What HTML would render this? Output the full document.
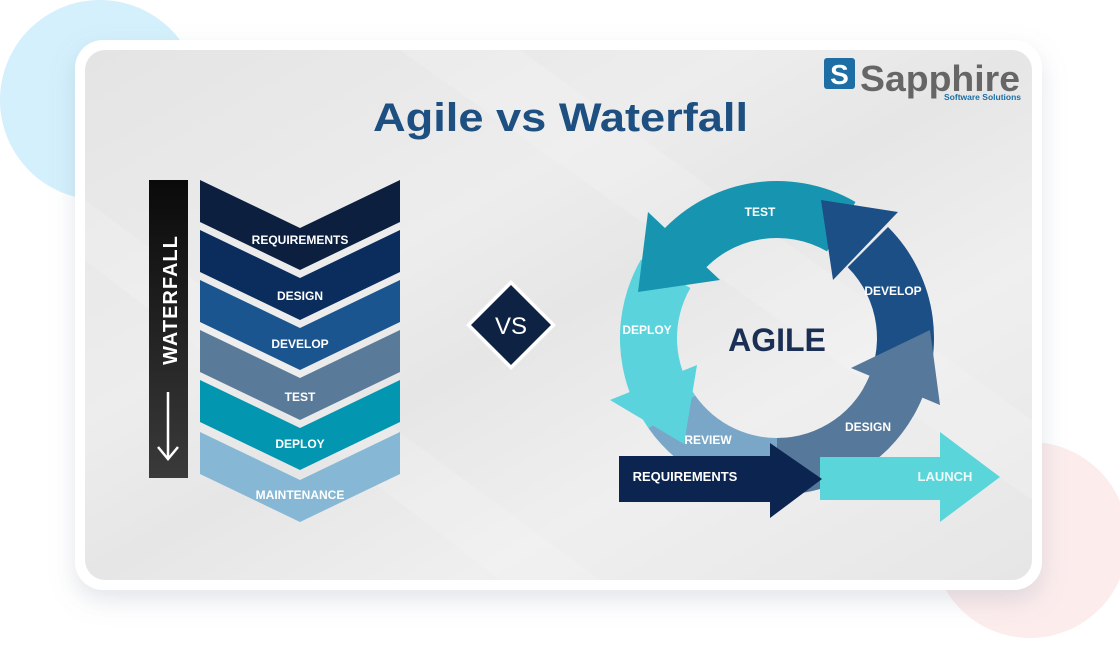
<!DOCTYPE html>
<html><head><meta charset="utf-8"><style>
html,body{margin:0;padding:0;background:#fff;}
body{width:1120px;height:670px;overflow:hidden;position:relative;font-family:"Liberation Sans",sans-serif;}
</style></head><body>
<svg width="1120" height="670" viewBox="0 0 1120 670" xmlns="http://www.w3.org/2000/svg" style="position:absolute;left:0;top:0">
<defs>
<linearGradient id="bg" x1="0" y1="0" x2="1" y2="1">
<stop offset="0" stop-color="#e4e4e4"/><stop offset="0.35" stop-color="#ededed"/><stop offset="0.5" stop-color="#e6e6e6"/><stop offset="0.7" stop-color="#efefef"/><stop offset="1" stop-color="#e6e6e6"/>
</linearGradient>
<linearGradient id="bar" x1="0" y1="0" x2="0" y2="1"><stop offset="0" stop-color="#0a0a0a"/><stop offset="1" stop-color="#3a3a3a"/></linearGradient>
<filter id="sh" x="-10%" y="-10%" width="120%" height="130%"><feDropShadow dx="0" dy="10" stdDeviation="12" flood-color="#8899aa" flood-opacity="0.25"/></filter>
</defs>
<circle cx="100" cy="100" r="100" fill="#d3f0fc"/>
<circle cx="1030" cy="540" r="98" fill="#fcecec"/>
<rect x="75" y="40" width="967" height="550" rx="28" fill="#fff" filter="url(#sh)"/>
<rect x="85" y="50" width="947" height="530" rx="20" fill="url(#bg)"/>
<g fill="#fff" opacity="0.15">
<polygon points="400,50 520,50 1032,420 1032,500"/>
<polygon points="85,200 85,260 500,580 600,580"/>
</g>
<text x="373" y="131" textLength="375" lengthAdjust="spacingAndGlyphs" font-size="40" font-weight="bold" fill="#1d4f80">Agile vs Waterfall</text>
<!-- logo -->
<rect x="824" y="58" width="31" height="31" rx="3" fill="#1c6ea4"/>
<text x="839.5" y="84" text-anchor="middle" font-size="28" font-weight="bold" fill="#fff">S</text>
<text x="860" y="91" textLength="160" lengthAdjust="spacingAndGlyphs" font-size="36" font-weight="bold" fill="#666">Sapphire</text>
<text x="1021" y="100" text-anchor="end" font-size="8.5" font-weight="bold" fill="#1c6ea4">Software Solutions</text>
<!-- waterfall bar -->
<rect x="149" y="180" width="39" height="298" fill="url(#bar)"/>
<text transform="translate(177,300) rotate(-90)" text-anchor="middle" font-size="20" font-weight="bold" fill="#fff" letter-spacing="1">WATERFALL</text>
<line x1="168" y1="392" x2="168" y2="458" stroke="#fff" stroke-width="2.5"/>
<polyline points="158,447 168,459 178,447" fill="none" stroke="#fff" stroke-width="2.5"/>
<!-- chevrons -->
<g font-size="12" font-weight="bold" fill="#fff" text-anchor="middle">
<polygon points="200,180 300,228 400,180 400,222 300,270 200,222" fill="#0c1f3f"/>
<polygon points="200,230 300,278 400,230 400,272 300,320 200,272" fill="#0b2d5e"/>
<polygon points="200,280 300,328 400,280 400,322 300,370 200,322" fill="#1b5590"/>
<polygon points="200,330 300,378 400,330 400,372 300,420 200,372" fill="#5a7a99"/>
<polygon points="200,380 300,428 400,380 400,422 300,470 200,422" fill="#0396b1"/>
<polygon points="200,432 300,480 400,432 400,474 300,522 200,474" fill="#86b8d6"/>
<text x="300" y="244">REQUIREMENTS</text>
<text x="300" y="300">DESIGN</text>
<text x="300" y="348">DEVELOP</text>
<text x="300" y="401">TEST</text>
<text x="300" y="448">DEPLOY</text>
<text x="300" y="499">MAINTENANCE</text>
</g>
<!-- VS -->
<polygon points="511,280 556,325 511,370 466,325" fill="#fff"/>
<polygon points="511,285 551,325 511,365 471,325" fill="#0e2244"/>
<text x="511" y="334" text-anchor="middle" font-size="24" fill="#fff">VS</text>
<!-- agile ring bodies -->
<path d="M648.4,428.1 A157,157 0 0 0 790.7,494.4 L785.7,437.6 A100,100 0 0 1 695.1,395.4 Z" fill="#7aa7c7"/>
<path d="M641,259.5 A157,157 0 0 0 648.4,428.1 L695.1,395.4 A100,100 0 0 1 690.4,288 Z" fill="#5bd3dc"/>
<path d="M855.5,202 A157,157 0 0 0 656.7,237.1 L700.4,273.7 A100,100 0 0 1 827,251.4 Z" fill="#1795b0"/>
<path d="M913,416.5 A157,157 0 0 0 888,227 L847.7,267.3 A100,100 0 0 1 863.6,388 Z" fill="#1b4f86"/>
<path d="M777,495 A157,157 0 0 0 924.6,391.7 L871,372.2 A100,100 0 0 1 777,438 Z" fill="#56789a"/>
<!-- heads -->
<polygon points="610,400 697,365 684,444" fill="#5bd3dc"/>
<polygon points="648,212 720,280 638,292" fill="#1795b0"/>
<polygon points="898,212 833,280 821,200" fill="#1b4f86"/>
<polygon points="940,405 851,368 930,330" fill="#56789a"/>
<!-- launch / requirements -->
<rect x="820" y="457" width="121" height="43" fill="#5ad5da"/>
<polygon points="940,432 1000,477 940,522" fill="#5ad5da"/>
<rect x="619" y="456" width="152" height="46" fill="#0c2550"/>
<polygon points="770,443 822,479 770,518" fill="#0c2550"/>
<g font-size="12" font-weight="bold" fill="#fff" text-anchor="middle">
<text x="760" y="216">TEST</text>
<text x="893" y="295">DEVELOP</text>
<text x="647" y="334">DEPLOY</text>
<text x="868" y="431">DESIGN</text>
<text x="708" y="444">REVIEW</text>
<text x="685" y="481" font-size="13">REQUIREMENTS</text>
<text x="945" y="481" font-size="13" fill="#eefafa">LAUNCH</text>
</g>
<text x="777" y="351" text-anchor="middle" font-size="32" font-weight="bold" fill="#1b2f55">AGILE</text>
</svg>
</body></html>
